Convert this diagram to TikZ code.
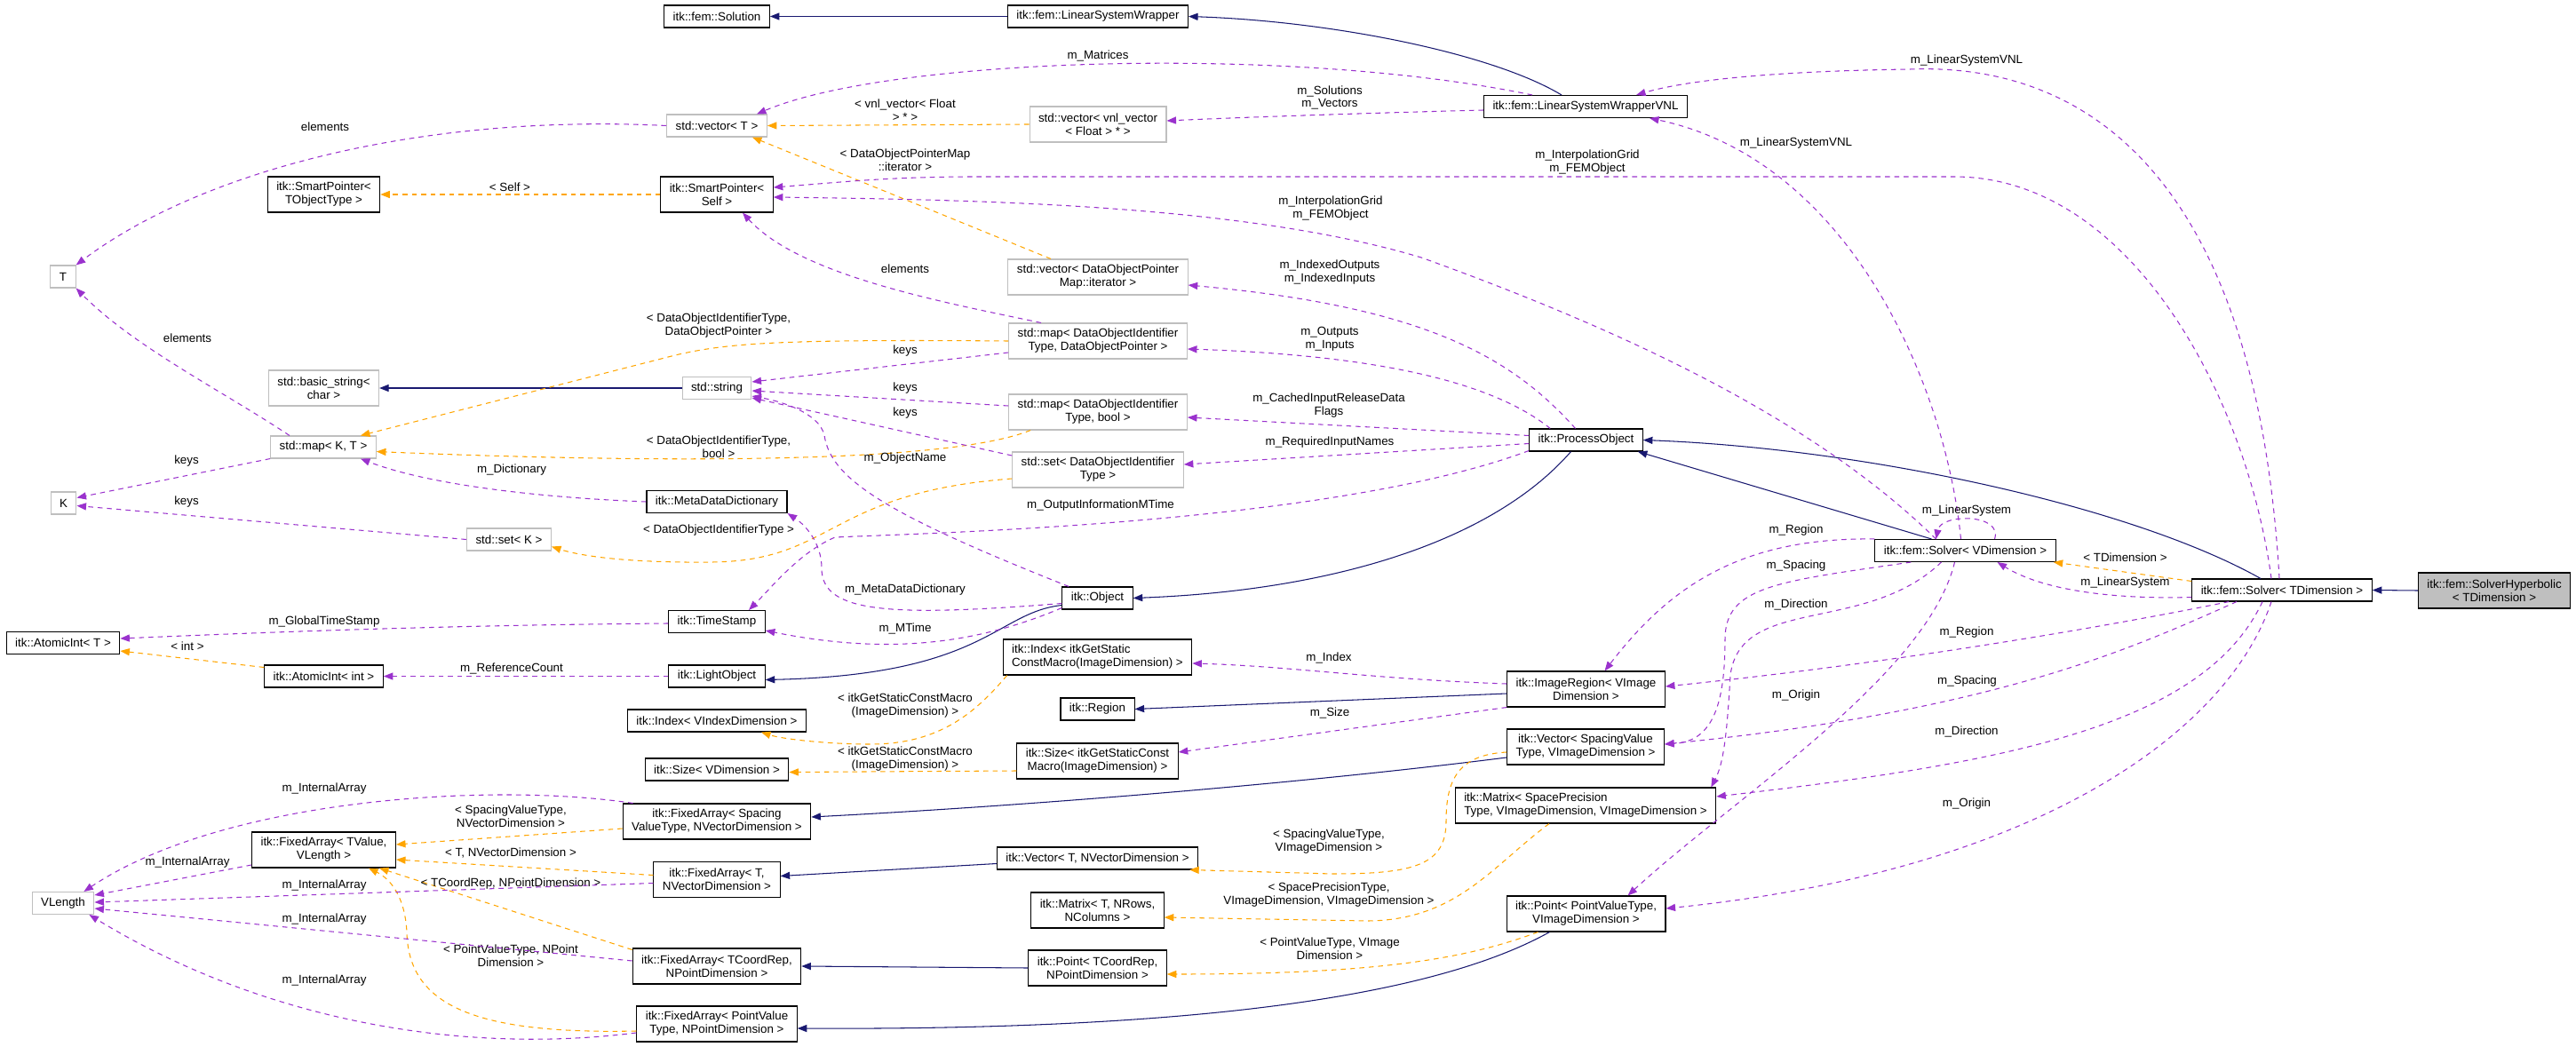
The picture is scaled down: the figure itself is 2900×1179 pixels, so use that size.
\documentclass[tikz,border=0pt]{standalone}
\usepackage{fontspec}
\setmainfont{Liberation Sans}
\usepackage{tikz}
\usetikzlibrary{positioning, arrows.meta, calc}

\definecolor{inhblue}{HTML}{191970}
\definecolor{memberpurple}{HTML}{9A32CD}
\definecolor{tmplorange}{HTML}{FFA500}
\definecolor{boxgray}{HTML}{BFBFBF}

\begin{document}
\begin{tikzpicture}[
    x=0.02cm, y=-0.02cm, % one unit per pixel, y going down
    cls/.style={draw=black, line width=0.6pt, font=\fontsize{7.6}{8.5}\selectfont, inner xsep=0.2cm, inner ysep=0pt, minimum height=0.5cm, align=center},
    ext/.style={cls, draw=boxgray},
    cur/.style={cls, fill=boxgray},
    two/.style={minimum height=0.8cm},
    lbl/.style={font=\fontsize{7.6}{8.5}\selectfont, align=center, inner sep=0pt},
    inherit/.style={draw=inhblue, line width=0.6pt, -{Triangle[length=6pt,width=4.6pt]}},
    member/.style={draw=memberpurple, line width=0.6pt, dash pattern=on 3.2pt off 2.8pt, -{Triangle[length=6pt,width=4.6pt]}},
    tmpl/.style={draw=tmplorange, line width=0.6pt, dash pattern=on 3.2pt off 2.8pt, -{Triangle[length=6pt,width=4.6pt]}}
]
\useasboundingbox (0,0) rectangle (2900,1179);

% left columns
\node[ext] (T) at (71,311.5) {T};
\node[ext] (K) at (71.5,566.5) {K};
\node[cls] (aiT) at (71,724) {itk::AtomicInt< T >};
\node[ext] (vlen) at (71,1017) {VLength};
\node[cls,two] (spTO) at (364.5,219) {itk::SmartPointer<\\ TObjectType >};
\node[ext,two] (bstr) at (364.5,437) {std::basic\_string<\\ char >};
\node[ext] (mapKT) at (364,503.5) {std::map< K, T >};
\node[ext] (setK) at (573,607.5) {std::set< K >};
\node[cls] (aiint) at (364.5,761.5) {itk::AtomicInt< int >};
\node[cls,two] (faTV) at (364.5,957) {itk::FixedArray< TValue,\\ VLength >};

% middle column
\node[cls] (solution) at (807,18.5) {itk::fem::Solution};
\node[ext] (vecT) at (807,141.5) {std::vector< T >};
\node[cls,two] (spSelf) at (807,219) {itk::SmartPointer<\\ Self >};
\node[ext] (str) at (807,437) {std::string};
\node[cls] (mdd) at (807,565) {itk::MetaDataDictionary};
\node[cls] (tstamp) at (807,700) {itk::TimeStamp};
\node[cls] (lobj) at (807,761.5) {itk::LightObject};
\node[cls] (idxV) at (807,811.5) {itk::Index< VIndexDimension >};
\node[cls] (sizeV) at (807,866.5) {itk::Size< VDimension >};
\node[cls,two] (faSp) at (807,925) {itk::FixedArray< Spacing\\ValueType, NVectorDimension >};
\node[cls,two] (faTN) at (807,990.5) {itk::FixedArray< T,\\ NVectorDimension >};
\node[cls,two] (faTC) at (807,1088) {itk::FixedArray< TCoordRep,\\ NPointDimension >};
\node[cls,two] (faPV) at (807,1153) {itk::FixedArray< PointValue\\Type, NPointDimension >};

% std containers and itk::Object column
\node[cls] (lsw) at (1236,18.5) {itk::fem::LinearSystemWrapper};
\node[ext,two] (vecvnl) at (1236,140) {std::vector< vnl\_vector\\< Float > * >};
\node[ext,two] (vecdopm) at (1236,312) {std::vector< DataObjectPointer\\Map::iterator >};
\node[ext,two] (mapdop) at (1236,384) {std::map< DataObjectIdentifier\\Type, DataObjectPointer >};
\node[ext,two] (mapbool) at (1236,464) {std::map< DataObjectIdentifier\\Type, bool >};
\node[ext,two] (setdoi) at (1236,529) {std::set< DataObjectIdentifier\\Type >};
\node[cls] (obj) at (1235.5,673.5) {itk::Object};
\node[cls,two,align=left] (idxget) at (1235.5,740) {itk::Index< itkGetStatic\\ConstMacro(ImageDimension) >};
\node[cls] (region) at (1235.5,798.5) {itk::Region};
\node[cls,two] (sizeget) at (1235.5,857) {itk::Size< itkGetStaticConst\\Macro(ImageDimension) >};
\node[cls] (vecTN) at (1235.5,966.5) {itk::Vector< T, NVectorDimension >};
\node[cls,two] (matTN) at (1235.5,1025) {itk::Matrix< T, NRows,\\ NColumns >};
\node[cls,two] (ptTC) at (1235.5,1090) {itk::Point< TCoordRep,\\ NPointDimension >};

% process object column
\node[cls] (lswvnl) at (1785,120) {itk::fem::LinearSystemWrapperVNL};
\node[cls] (procobj) at (1785.5,495.5) {itk::ProcessObject};
\node[cls,two] (imreg) at (1785.5,776) {itk::ImageRegion< VImage\\Dimension >};
\node[cls,two] (vecSp) at (1785,841) {itk::Vector< SpacingValue\\Type, VImageDimension >};
\node[cls,two,align=left] (matSP) at (1785,907) {itk::Matrix< SpacePrecision\\Type, VImageDimension, VImageDimension >};
\node[cls,two] (ptPV) at (1785.5,1029) {itk::Point< PointValueType,\\ VImageDimension >};

% solvers
\node[cls] (solverV) at (2212.5,620) {itk::fem::Solver< VDimension >};
\node[cls] (solverT) at (2569,664.5) {itk::fem::Solver< TDimension >};
\node[cur,two] (hyper) at (2808,665) {itk::fem::SolverHyperbolic\\< TDimension >};

% inheritance
\draw[inherit] (lsw.west) -- (solution.east);
\draw[inherit] ($(lswvnl.north)+(-27,0)$) .. controls (1680,60) and (1500,24) .. (lsw.east);
\draw[inherit] (str.west) -- (bstr.east);
\draw[inherit] ($(obj.west)+(0,8)$) .. controls (1120,690) and (1110,760) .. ($(lobj.east)+(0,4)$);
\draw[inherit] ($(procobj.south)+(-17,0)$) .. controls (1680,610) and (1500,665) .. (obj.east);
\draw[inherit] ($(solverV.north)+(-38,0)$) -- ($(procobj.south east)+(-6,0)$);
\draw[inherit] ($(solverT.north)+(-24,0)$) .. controls (2400,570) and (2100,505) .. (procobj.east);
\draw[inherit] (hyper.west) -- (solverT.east);
\draw[inherit] ($(imreg.west)+(0,5)$) -- (region.east);
\draw[inherit] ($(vecSp.west)+(0,12)$) .. controls (1500,878) and (1200,905) .. ($(faSp.east)+(0,-5)$);
\draw[inherit] ($(vecTN.west)+(0,6)$) -- ($(faTN.east)+(0,-4)$);
\draw[inherit] ($(ptPV.south)+(-41,0)$) .. controls (1600,1130) and (1300,1160) .. ($(faPV.east)+(0,5)$);
\draw[inherit] (ptTC.west) -- (faTC.east);

% template arguments
\draw[tmpl] (vecvnl.west) -- (vecT.east) node[lbl,at={(1019,124)}] {< vnl\_vector< Float\\> * >};
\draw[tmpl] ($(vecdopm.north)+(-53,0)$) -- ($(vecT.south east)+(-17,0)$) node[lbl,at={(1019,180)}] {< DataObjectPointerMap\\::iterator >};
\draw[tmpl] (spSelf.west) -- (spTO.east) node[lbl,at={(574,211)}] {< Self >};
\draw[tmpl] (mapdop.west) .. controls (880,382) and (820,386) .. (760,400) -- ($(mapKT.north east)+(-18,0)$) node[lbl,at={(809,367)}] {< DataObjectIdentifierType,\\DataObjectPointer >};
\draw[tmpl] ($(mapbool.south west)+(25,0)$) .. controls (1060,525) and (700,520) .. ($(mapKT.east)+(0,5)$) node[lbl,at={(809,503)}] {< DataObjectIdentifierType,\\bool >};
\draw[tmpl] ($(setdoi.west)+(0,10)$) .. controls (930,555) and (940,632) .. (800,633) .. controls (700,634) and (650,625) .. ($(setK.east)+(0,8)$) node[lbl,at={(809,597)}] {< DataObjectIdentifierType >};
\draw[tmpl] ($(aiint.west)+(0,-10)$) -- ($(aiT.east)+(0,9)$) node[lbl,at={(211,728)}] {< int >};
\draw[tmpl] ($(solverT.north west)+(0,3)$) -- ($(solverV.south east)+(-3,0)$) node[lbl,at={(2392.5,628)}] {< TDimension >};
\draw[tmpl] ($(idxget.south west)+(5,0)$) .. controls (1100,800) and (1060,838) .. (980,838) .. controls (930,838) and (880,832) .. ($(idxV.south)+(50,0)$) node[lbl,at={(1019,795)}] {< itkGetStaticConstMacro\\(ImageDimension) >};
\draw[tmpl] ($(sizeget.west)+(0,11)$) -- ($(sizeV.east)+(0,3)$) node[lbl,at={(1019,855)}] {< itkGetStaticConstMacro\\(ImageDimension) >};
\draw[tmpl] ($(vecSp.west)+(0,6)$) .. controls (1640,850) and (1628,880) .. (1628,925) .. controls (1628,975) and (1590,984) .. (1500,984) -- ($(vecTN.south east)+(-10,0)$) node[lbl,at={(1496,948)}] {< SpacingValueType,\\VImageDimension >};
\draw[tmpl] ($(matSP.south)+(-41,0)$) .. controls (1680,975) and (1640,1036) .. (1540,1037) -- ($(matTN.east)+(0,8)$) node[lbl,at={(1496,1008)}] {< SpacePrecisionType,\\VImageDimension, VImageDimension >};
\draw[tmpl] ($(ptPV.south west)+(36,0)$) .. controls (1650,1080) and (1550,1097) .. ($(ptTC.east)+(0,7)$) node[lbl,at={(1497,1068)}] {< PointValueType, VImage\\Dimension >};
\draw[tmpl] ($(faSp.west)+(0,8)$) -- ($(faTV.east)+(0,-6)$) node[lbl,at={(575,919)}] {< SpacingValueType,\\NVectorDimension >};
\draw[tmpl] ($(faTN.west)+(0,-5)$) -- ($(faTV.east)+(0,11)$) node[lbl,at={(575,961)}] {< T, NVectorDimension >};
\draw[tmpl] ($(faTC.north west)+(0,2)$) -- ($(faTV.south east)+(-19,0)$) node[lbl,at={(575,995)}] {< TCoordRep, NPointDimension >};
\draw[tmpl] ($(faPV.west)+(0,8)$) .. controls (530,1165) and (460,1130) .. (458,1050) .. controls (456,1010) and (440,990) .. ($(faTV.south east)+(-31,0)$) node[lbl,at={(575,1076)}] {< PointValueType, NPoint\\Dimension >};

% members
\draw[member] ($(lswvnl.north)+(-60,0)$) .. controls (1450,50) and (1000,65) .. ($(vecT.north east)+(-12,0)$) node[lbl,at={(1236,63)}] {m\_Matrices};
\draw[member] ($(lswvnl.west)+(0,4)$) .. controls (1550,127) and (1400,132) .. ($(vecvnl.east)+(0,-4)$) node[lbl,at={(1497,110)}] {m\_Solutions\\m\_Vectors};
\draw[member] (vecT.west) .. controls (480,128) and (230,190) .. (T.north east) node[lbl,at={(366,143)}] {elements};
\draw[member] ($(mapdop.north)+(-64,0)$) .. controls (1060,340) and (900,310) .. ($(spSelf.south)+(29,0)$) node[lbl,at={(1019,303)}] {elements};
\draw[member] ($(mapKT.north)+(-38,0)$) .. controls (250,440) and (150,390) .. (T.south east) node[lbl,at={(211,381)}] {elements};
\draw[member] (mapKT.south west) -- ($(K.east)+(0,-6)$) node[lbl,at={(210,519)}] {keys};
\draw[member] (setK.west) -- ($(K.east)+(0,3)$) node[lbl,at={(210,565)}] {keys};
\draw[member] ($(mapdop.west)+(0,13)$) -- ($(str.east)+(0,-7)$) node[lbl,at={(1019,395)}] {keys};
\draw[member] ($(mapbool.west)+(0,-7)$) -- ($(str.east)+(0,3)$) node[lbl,at={(1019,437)}] {keys};
\draw[member] ($(setdoi.west)+(0,-16)$) -- ($(str.south east)+(0,-2)$) node[lbl,at={(1019,465)}] {keys};
\draw[member] (mdd.west) .. controls (600,560) and (480,545) .. ($(mapKT.south east)+(-18,0)$) node[lbl,at={(576,529)}] {m\_Dictionary};
\draw[member] ($(obj.north west)+(8,0)$) .. controls (1000,580) and (935,540) .. (928,490) .. controls (922,465) and (880,452) .. ($(str.east)+(0,9)$) node[lbl,at={(1019,516)}] {m\_ObjectName};
\draw[member] ($(obj.west)+(0,6)$) .. controls (1000,695) and (925,690) .. (925,640) .. controls (925,610) and (905,590) .. (mdd.south east) node[lbl,at={(1019,664)}] {m\_MetaDataDictionary};
\draw[member] ($(obj.south west)+(0,-2)$) .. controls (1100,725) and (1000,738) .. ($(tstamp.south east)+(0,-3)$) node[lbl,at={(1019,708)}] {m\_MTime};
\draw[member] ($(procobj.west)+(0,12)$) .. controls (1500,590) and (1050,600) .. (940,605) .. controls (900,622) and (870,660) .. ($(tstamp.north)+(36,0)$) node[lbl,at={(1239,569)}] {m\_OutputInformationMTime};
\draw[member] ($(procobj.north)+(-12,0)$) .. controls (1700,400) and (1600,345) .. ($(vecdopm.east)+(0,9)$) node[lbl,at={(1497,307)}] {m\_IndexedOutputs\\m\_IndexedInputs};
\draw[member] ($(procobj.north west)+(24,0)$) .. controls (1680,430) and (1550,400) .. ($(mapdop.east)+(0,9)$) node[lbl,at={(1497,382)}] {m\_Outputs\\m\_Inputs};
\draw[member] ($(procobj.west)+(0,-5)$) -- ($(mapbool.east)+(0,6)$) node[lbl,at={(1496,457)}] {m\_CachedInputReleaseData\\Flags};
\draw[member] ($(procobj.west)+(0,4)$) -- ($(setdoi.east)+(0,-6)$) node[lbl,at={(1497,498)}] {m\_RequiredInputNames};
\draw[member] ($(solverT.north)+(-12,0)$) .. controls (2530,450) and (2400,199) .. (2200,199) -- (1100,199) .. controls (1000,199) and (950,205) .. ($(spSelf.east)+(0,-8)$) node[lbl,at={(1787,183)}] {m\_InterpolationGrid\\m\_FEMObject};
\draw[member] ($(solverV.north)+(-33,0)$) .. controls (2050,480) and (1850,380) .. (1600,290) .. controls (1400,230) and (1100,225) .. ($(spSelf.east)+(0,3)$) node[lbl,at={(1498,235)}] {m\_InterpolationGrid\\m\_FEMObject};
\draw[member] ($(solverT.north)+(-3,0)$) .. controls (2540,200) and (2350,70) .. (2150,78) .. controls (2000,80) and (1900,90) .. ($(lswvnl.north east)+(-58,0)$) node[lbl,at={(2214,68)}] {m\_LinearSystemVNL};
\draw[member] ($(solverV.north)+(-5,0)$) .. controls (2190,430) and (2080,180) .. ($(lswvnl.south)+(72,0)$) node[lbl,at={(2022,161)}] {m\_LinearSystemVNL};
\draw[member] ($(solverV.north)+(33,0)$) .. controls (2255,578) and (2185,578) .. ($(solverV.north)+(-33,0)$) node[lbl,at={(2214,575)}] {m\_LinearSystem};
\draw[member] ($(solverT.west)+(0,8)$) .. controls (2380,675) and (2300,665) .. ($(solverV.south)+(36,0)$) node[lbl,at={(2392.5,656)}] {m\_LinearSystem};
\draw[member] (solverV.north west) .. controls (1960,605) and (1880,660) .. ($(imreg.north)+(21,0)$) node[lbl,at={(2022,597)}] {m\_Region};
\draw[member] ($(solverV.south west)+(41,0)$) .. controls (2000,655) and (1942,660) .. (1942,720) .. controls (1942,800) and (1925,835) .. ($(vecSp.east)+(0,-3)$) node[lbl,at={(2022,637)}] {m\_Spacing};
\draw[member] ($(solverV.south)+(-27,0)$) .. controls (2100,715) and (1960,670) .. (1948,760) .. controls (1944,830) and (1940,860) .. ($(matSP.north east)+(-6,0)$) node[lbl,at={(2022,681)}] {m\_Direction};
\draw[member] ($(solverV.south)+(-12,0)$) .. controls (2170,760) and (1950,900) .. ($(ptPV.north)+(47,0)$) node[lbl,at={(2022,783)}] {m\_Origin};
\draw[member] ($(solverT.south west)+(42,0)$) .. controls (2400,700) and (2150,745) .. ($(imreg.east)+(0,-3)$) node[lbl,at={(2214,712)}] {m\_Region};
\draw[member] ($(solverT.south)+(-51,0)$) .. controls (2400,730) and (2250,800) .. ($(vecSp.east)+(0,-3)$) node[lbl,at={(2214.5,767)}] {m\_Spacing};
\draw[member] ($(solverT.south)+(-22,0)$) .. controls (2480,820) and (2250,860) .. ($(matSP.east)+(0,-10)$) node[lbl,at={(2214,824)}] {m\_Direction};
\draw[member] ($(solverT.south)+(-12,0)$) .. controls (2510,820) and (2300,980) .. ($(ptPV.east)+(0,-6)$) node[lbl,at={(2214,905)}] {m\_Origin};
\draw[member] ($(imreg.west)+(0,-6)$) .. controls (1550,765) and (1450,750) .. ($(idxget.east)+(0,7)$) node[lbl,at={(1496,741)}] {m\_Index};
\draw[member] (imreg.south west) -- ($(sizeget.east)+(0,-10)$) node[lbl,at={(1497,803)}] {m\_Size};
\draw[member] ($(faSp.north west)+(12,0)$) .. controls (550,880) and (250,900) .. ($(vlen.north east)+(-12,0)$) node[lbl,at={(365,888)}] {m\_InternalArray};
\draw[member] ($(faTV.west)+(0,17)$) -- ($(vlen.east)+(0,-9)$) node[lbl,at={(211,971)}] {m\_InternalArray};
\draw[member] ($(faTN.west)+(0,4)$) -- ($(vlen.east)+(0,-1)$) node[lbl,at={(365,997)}] {m\_InternalArray};
\draw[member] ($(faTC.west)+(0,-6)$) -- ($(vlen.east)+(0,6)$) node[lbl,at={(365,1035)}] {m\_InternalArray};
\draw[member] ($(faPV.west)+(0,10)$) .. controls (500,1190) and (280,1140) .. ($(vlen.south east)+(-6,0)$) node[lbl,at={(365,1104)}] {m\_InternalArray};
\draw[member] (lobj.west) -- (aiint.east) node[lbl,at={(576,753)}] {m\_ReferenceCount};
\draw[member] ($(tstamp.west)+(0,2)$) .. controls (500,704) and (300,712) .. ($(aiT.east)+(0,-5)$) node[lbl,at={(365,700)}] {m\_GlobalTimeStamp};
\end{tikzpicture}
\end{document}
